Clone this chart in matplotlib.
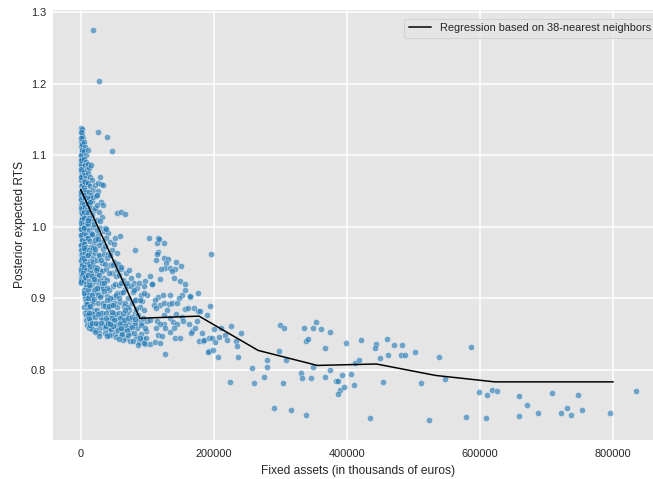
import matplotlib
matplotlib.use("Agg")
import matplotlib.pyplot as plt

# k-nearest-neighbour regression curve (fixed assets, posterior expected RTS)
curve_assets = [0, 88889, 177778, 266667, 355556, 444444, 533333, 622222, 711111, 800000]
curve_rts = [1.052, 0.872, 0.875, 0.827, 0.806, 0.808, 0.792, 0.783, 0.783, 0.783]

# firms with fixed assets below 4 000
firms_0_4k = [
    (500, 1.138), (1500, 1.131), (2800, 1.124), (900, 1.119), (3600, 1.115), (1200, 1.109),
    (2200, 1.104), (400, 1.099), (3100, 1.095), (1800, 1.091), (700, 1.086), (2600, 1.083),
    (3900, 1.079), (1100, 1.075), (300, 1.071), (2400, 1.068), (3300, 1.064), (1600, 1.061),
    (800, 1.057), (2900, 1.054), (1400, 1.050), (3700, 1.047), (600, 1.044), (2100, 1.041),
    (1000, 1.037), (3400, 1.034), (200, 1.031), (2700, 1.028), (1700, 1.025), (900, 1.021),
    (3000, 1.018), (1300, 1.015), (2500, 1.012), (500, 1.009), (3800, 1.006), (1900, 1.003),
    (800, 0.999), (2300, 0.996), (1100, 0.993), (3500, 0.990), (400, 0.987), (2000, 0.984),
    (1500, 0.980), (2900, 0.977), (700, 0.974), (3200, 0.971), (1200, 0.968), (2600, 0.965),
    (300, 0.961), (1800, 0.958), (3600, 0.955), (900, 0.952), (2200, 0.949), (1400, 0.945),
    (600, 0.942), (2800, 0.939), (1000, 0.936), (3300, 0.933), (400, 0.930), (1700, 0.927),
    (2400, 0.924), (800, 0.921), (3900, 0.960), (3700, 1.002), (2000, 1.096), (1300, 1.127),
    (200, 1.078), (500, 1.045), (1600, 0.990), (2700, 0.941), (2000, 1.137),
    (100, 1.133), (1000, 1.124), (300, 1.113), (1900, 1.107), (600, 1.101), (1200, 1.093),
    (200, 1.088), (900, 1.081), (1800, 1.073), (400, 1.066), (1100, 1.059), (2300, 1.052),
    (100, 1.048), (700, 1.039), (1500, 1.033), (400, 1.026), (1200, 1.019), (2000, 1.011),
    (300, 1.005), (1000, 0.997), (600, 0.989), (1700, 0.982), (200, 0.975), (900, 0.967),
    (1400, 0.962), (500, 0.954), (2100, 0.947), (300, 0.940), (1100, 0.933), (700, 0.926),
    (200, 0.923), (1300, 0.957), (600, 1.070), (1600, 1.116), (400, 1.094),
]

# firms with fixed assets between 4 000 and 10 000
firms_4_10k = [
    (4300, 1.118), (6100, 1.112), (5200, 1.106), (7400, 1.101), (4800, 1.095), (8600, 1.090),
    (5900, 1.086), (9300, 1.081), (4500, 1.077), (6800, 1.073), (7900, 1.068), (5500, 1.064),
    (9000, 1.060), (4100, 1.056), (6400, 1.052), (8200, 1.048), (5000, 1.044), (7100, 1.040),
    (9700, 1.036), (4600, 1.032), (6000, 1.028), (8800, 1.024), (5600, 1.020), (7600, 1.016),
    (4200, 1.012), (9400, 1.008), (6700, 1.004), (5300, 1.000), (8000, 0.996), (4900, 0.992),
    (7200, 0.988), (9900, 0.984), (6200, 0.980), (4400, 0.976), (8400, 0.972), (5700, 0.968),
    (7000, 0.964), (9100, 0.960), (4700, 0.956), (6500, 0.952), (8700, 0.948), (5100, 0.944),
    (7800, 0.940), (4000, 0.936), (9500, 0.932), (6300, 0.928), (5400, 0.924), (8100, 0.920),
    (7300, 0.916), (4800, 0.912), (9200, 0.908), (6600, 0.904), (5800, 0.900), (8500, 0.896),
    (7500, 0.892), (4300, 0.888), (9800, 0.884), (6900, 0.880), (8300, 0.876), (5100, 0.908),
    (7700, 0.870), (9600, 0.862), (6000, 1.063), (8900, 1.005), (4500, 0.998), (7000, 0.930),
    (5600, 0.970), (9000, 1.042), (10400, 1.108),
]

# firms with fixed assets between 10 000 and 20 000
firms_10_20k = [
    (10500, 1.088), (12800, 1.082), (11200, 1.075), (14600, 1.070), (16300, 1.066),
    (10900, 1.061), (13500, 1.057), (18100, 1.052), (11800, 1.048), (15200, 1.044),
    (12300, 1.040), (17400, 1.036), (10200, 1.032), (14000, 1.028), (19200, 1.024),
    (11500, 1.020), (16800, 1.016), (13100, 1.012), (15700, 1.008), (10700, 1.004),
    (18600, 1.000), (12000, 0.996), (14900, 0.992), (17000, 0.988), (11000, 0.984),
    (13800, 0.980), (19600, 0.976), (15400, 0.972), (12600, 0.968), (16000, 0.964),
    (10400, 0.960), (18300, 0.956), (14200, 0.952), (11900, 0.948), (17700, 0.944),
    (13300, 0.940), (15900, 0.936), (10800, 0.932), (19000, 0.928), (12400, 0.924),
    (16500, 0.920), (14400, 0.916), (11300, 0.912), (18800, 0.908), (13000, 0.904),
    (15000, 0.900), (17200, 0.896), (10100, 0.892), (12900, 0.888), (19400, 0.884),
    (14700, 0.880), (11600, 0.876), (16100, 0.872), (13600, 0.868), (18000, 0.864),
    (15500, 0.860), (12200, 0.872), (17900, 0.878), (10600, 0.900), (14100, 0.945),
    (19800, 0.910), (16600, 0.990), (11400, 1.010), (13900, 1.034), (18500, 0.970),
    (12500, 0.858), (17300, 0.857), (15500, 1.087),
    (16900, 0.904), (18700, 0.893), (14400, 0.889), (12100, 0.918), (16200, 0.931),
    (19000, 0.951), (18900, 1.041), (11700, 0.879), (13200, 0.862), (17600, 0.866),
]

# firms with fixed assets between 20 000 and 35 000
firms_20_35k = [
    (21000, 1.058), (26500, 1.050), (23200, 1.043), (29800, 1.035), (33000, 1.030),
    (22100, 1.026), (27400, 1.020), (31600, 1.014), (24800, 1.009), (20500, 1.004),
    (28900, 0.999), (34200, 0.994), (25600, 0.989), (22700, 0.984), (30700, 0.979),
    (26900, 0.974), (33800, 0.969), (21600, 0.964), (28200, 0.959), (24100, 0.954),
    (32300, 0.949), (20900, 0.944), (29400, 0.939), (25000, 0.934), (34600, 0.929),
    (22400, 0.924), (27800, 0.919), (31100, 0.914), (23700, 0.909), (30200, 0.904),
    (20300, 0.899), (26100, 0.894), (33400, 0.889), (24400, 0.884), (28600, 0.879),
    (21800, 0.874), (32700, 0.869), (25300, 0.864), (29100, 0.859), (23000, 0.855),
    (27100, 0.851), (34900, 0.862), (20700, 0.913), (31900, 0.938), (26700, 0.961),
    (23900, 0.996), (30400, 0.872), (22900, 0.866), (28000, 0.847), (33100, 0.915),
    (21300, 0.982), (25900, 0.905), (32000, 0.880), (24600, 0.943), (29600, 0.925),
    (22500, 0.940), (27300, 0.932), (31400, 0.921), (24200, 0.915), (29000, 0.902),
    (33600, 0.893), (20100, 0.927), (25800, 0.878), (30800, 0.866), (21900, 0.969),
    (26300, 0.983), (30000, 0.953), (34500, 0.962), (28400, 1.008), (24300, 1.031),
    (21200, 0.853),
]

# firms with fixed assets between 35 000 and 55 000
firms_35_55k = [
    (36000, 0.998), (40500, 0.992), (38200, 0.985), (44100, 0.979), (36800, 0.973),
    (47300, 0.967), (41600, 0.962), (39000, 0.956), (50200, 0.951), (43400, 0.946),
    (37400, 0.941), (46500, 0.936), (52800, 0.931), (40100, 0.926), (35500, 0.921),
    (48700, 0.917), (42900, 0.912), (54000, 0.907), (38800, 0.903), (45600, 0.898),
    (51400, 0.894), (36600, 0.889), (41000, 0.885), (49500, 0.880), (44800, 0.876),
    (53300, 0.871), (39600, 0.867), (47900, 0.863), (35900, 0.859), (43000, 0.855),
    (50900, 0.851), (46100, 0.848), (54600, 0.858), (40800, 0.870), (37900, 0.880),
    (45200, 0.890), (52100, 0.878), (42200, 0.935), (48300, 0.946), (39300, 0.915),
    (36300, 0.948), (44400, 0.960), (51000, 0.920), (53800, 0.888), (38500, 0.861),
    (41900, 0.848), (47000, 0.872), (49800, 0.902), (43700, 0.900), (55000, 0.940),
    (35100, 0.910), (38700, 0.897), (42600, 0.889), (46700, 0.881), (50400, 0.869),
    (54200, 0.862), (37200, 0.872), (41300, 0.866), (45700, 0.857), (49100, 0.861),
    (52600, 0.846), (35700, 0.851), (39800, 0.847), (44000, 0.864), (48600, 0.890),
    (53000, 0.905),
]

# firms with fixed assets between 55 000 and 75 000
firms_55_75k = [
    (56200, 0.948), (60500, 0.941), (58000, 0.933), (63700, 0.926), (57100, 0.919),
    (66900, 0.913), (61200, 0.907), (70400, 0.901), (59300, 0.895), (64800, 0.889),
    (73100, 0.884), (56800, 0.879), (62600, 0.874), (68300, 0.869), (71900, 0.864),
    (58700, 0.860), (65500, 0.856), (74200, 0.852), (60000, 0.849), (67700, 0.845),
    (63100, 0.842), (72500, 0.858), (69000, 0.878), (57600, 0.900), (61900, 0.866),
    (66200, 0.894), (74800, 0.871), (55900, 0.856), (64100, 0.909), (70900, 0.888),
    (59800, 0.922), (68900, 0.856), (62300, 0.850), (73600, 0.840), (58900, 0.872),
    (66000, 0.862), (71200, 0.848), (63900, 0.880), (67300, 0.935), (69800, 0.917),
    (58300, 0.866), (57000, 0.843), (60800, 0.858), (64600, 0.870), (67000, 0.883),
    (71500, 0.872),
]

# firms with fixed assets between 75 000 and 100 000
firms_75_100k = [
    (76000, 0.928), (80300, 0.921), (85100, 0.915), (78200, 0.909), (91000, 0.904),
    (83600, 0.898), (77500, 0.893), (88400, 0.888), (95200, 0.883), (81700, 0.879),
    (76900, 0.874), (86800, 0.870), (92600, 0.866), (79400, 0.862), (84300, 0.858),
    (98100, 0.854), (89900, 0.850), (82500, 0.846), (94000, 0.843), (87200, 0.839),
    (96800, 0.836), (79900, 0.852), (90500, 0.862), (85700, 0.877), (99400, 0.868),
    (77800, 0.840), (93300, 0.873), (81000, 0.866), (88800, 0.845), (96000, 0.858),
    (83000, 0.885), (91700, 0.896), (86100, 0.835), (97500, 0.845), (80800, 0.897),
    (94600, 0.838), (97000, 0.924), (95200, 0.917), (99700, 0.905), (89600, 0.898),
    (76500, 0.860), (82000, 0.871),
]

# isolated firms above the main cloud
upper_firms = [
    (19000, 1.276), (26900, 1.204), (25400, 1.132), (39500, 1.125), (46500, 1.106),
    (28400, 1.069), (26000, 1.061), (31000, 1.060), (34000, 1.059), (23900, 1.044),
    (55000, 1.019), (61000, 1.020), (67100, 1.018), (37500, 0.997), (52000, 0.985),
    (58500, 0.987), (49500, 0.976), (81600, 0.967), (54600, 0.964), (61000, 0.944),
    (73100, 0.939), (85600, 0.933), (76100, 0.917), (69600, 0.922), (88100, 0.921),
    (94600, 0.908), (79600, 0.912),
]

# firms with fixed assets between 100 000 and 250 000
mid_firms = [
    (102100, 0.985), (116200, 0.985), (114700, 0.978), (124700, 0.977), (104700, 0.931),
    (107200, 0.920), (196400, 0.962), (117700, 0.983), (116700, 0.965), (114700, 0.962),
    (113200, 0.954), (124700, 0.957), (130700, 0.955), (128700, 0.950), (143800, 0.951),
    (126700, 0.943), (120700, 0.941), (134700, 0.942), (142300, 0.941), (150800, 0.945),
    (136700, 0.938), (119700, 0.927), (140800, 0.929), (149800, 0.924), (156300, 0.920),
    (107700, 0.920), (157300, 0.912), (152800, 0.905), (148300, 0.901), (175800, 0.908),
    (164300, 0.902), (115700, 0.902), (123700, 0.904), (111700, 0.897), (134700, 0.904),
    (109700, 0.891), (118700, 0.891), (125700, 0.893), (132200, 0.892), (137300, 0.893),
    (144800, 0.894), (129800, 0.884), (113200, 0.887), (156800, 0.885), (160800, 0.886),
    (170400, 0.886), (176400, 0.882), (143800, 0.878), (152300, 0.874), (134700, 0.873),
    (124700, 0.876), (104700, 0.870), (114700, 0.868), (124700, 0.864), (119700, 0.864),
    (138200, 0.867), (144800, 0.864), (153300, 0.868), (162300, 0.864), (174900, 0.868),
    (113700, 0.858), (127200, 0.858), (139800, 0.859), (167400, 0.854), (171300, 0.858),
    (115700, 0.848), (122300, 0.847), (134700, 0.853), (142300, 0.844), (149800, 0.844),
    (166300, 0.851), (177300, 0.840), (183900, 0.840), (127200, 0.822), (104700, 0.836),
    (112200, 0.839), (119700, 0.838), (192400, 0.826), (163800, 0.903),
    (179900, 0.882), (194900, 0.889), (190400, 0.876), (182400, 0.851), (184900, 0.841),
    (192400, 0.845), (197400, 0.844), (190900, 0.825), (198400, 0.828), (202400, 0.839),
    (200900, 0.857), (206900, 0.818), (207400, 0.846), (211400, 0.858), (216400, 0.849),
    (220400, 0.841), (226500, 0.861), (234000, 0.840), (234400, 0.833), (236500, 0.818),
    (240500, 0.851), (225000, 0.783),
]

# firms with fixed assets above 250 000
large_firms = [
    (300200, 0.863), (305600, 0.858), (335200, 0.859), (348800, 0.858), (353800, 0.867),
    (361800, 0.857), (374300, 0.853), (339300, 0.840), (342300, 0.843), (366800, 0.831),
    (398900, 0.838), (421500, 0.842), (443500, 0.836), (442000, 0.831), (459600, 0.843),
    (470600, 0.835), (482600, 0.834), (450000, 0.816), (461500, 0.820), (481600, 0.821),
    (488100, 0.820), (502700, 0.825), (537800, 0.818), (298200, 0.826), (280600, 0.813),
    (308100, 0.814), (279600, 0.804), (257000, 0.802), (260600, 0.782), (275100, 0.790),
    (304700, 0.781), (331800, 0.796), (332200, 0.789), (345800, 0.788), (349800, 0.804),
    (367300, 0.790), (374300, 0.799), (384400, 0.784), (387400, 0.784), (393400, 0.793),
    (390400, 0.772), (396400, 0.776), (386400, 0.766), (406500, 0.794), (410400, 0.779),
    (412500, 0.810), (418500, 0.814), (453600, 0.783), (511700, 0.782), (546800, 0.787),
    (290100, 0.746), (315600, 0.744), (338800, 0.737), (434500, 0.732), (523200, 0.729),
    (585900, 0.832), (579400, 0.734), (609900, 0.732), (597900, 0.769), (610400, 0.765),
    (618000, 0.771), (625400, 0.770), (659500, 0.763), (659500, 0.735), (671200, 0.751),
    (687700, 0.739), (708200, 0.767), (721300, 0.739), (731300, 0.747), (736300, 0.736),
    (747800, 0.765), (753800, 0.744), (795400, 0.740), (835000, 0.770),
]

groups = [firms_0_4k, firms_4_10k, firms_10_20k, firms_20_35k, firms_35_55k,
          firms_55_75k, firms_75_100k, upper_firms, mid_firms, large_firms]
assets = [p[0] for g in groups for p in g]
rts = [p[1] for g in groups for p in g]

TEXT = "#262626"
plt.rcParams["font.family"] = ["Liberation Sans", "DejaVu Sans"]

fig = plt.figure(figsize=(653 / 72, 479 / 72), dpi=72)
ax = fig.add_axes([53 / 653, 39 / 479, 611 / 653, 430 / 479])
ax.set_facecolor("#E5E5E5")
for s in ax.spines.values():
    s.set_visible(False)
ax.grid(True, color="white", linewidth=1.5)
ax.set_axisbelow(True)

ax.scatter(assets, rts, s=40, color="#1f77b4", alpha=0.6,
           edgecolor="white", linewidth=0.6, zorder=2)
ax.plot(curve_assets, curve_rts, color="black", linewidth=1.5, zorder=3,
        label="Regression based on 38-nearest neighbors")

ax.tick_params(length=0, labelsize=11, colors=TEXT)
ax.tick_params(axis="x", pad=9)
ax.tick_params(axis="y", pad=7)
ax.set_xticks([0, 200000, 400000, 600000, 800000])
ax.set_xlabel("Fixed assets (in thousands of euros)", fontsize=12, color=TEXT, labelpad=6)
ax.set_ylabel("Posterior expected RTS", fontsize=12, color=TEXT, labelpad=5)

leg = ax.legend(loc="upper right", fontsize=11, frameon=True, fancybox=True,
                borderaxespad=0.8)
leg.get_frame().set_facecolor("#E5E5E5")
leg.get_frame().set_edgecolor("#CCCCCC")
for t in leg.get_texts():
    t.set_color(TEXT)

fig.savefig("out.png", dpi=72)
